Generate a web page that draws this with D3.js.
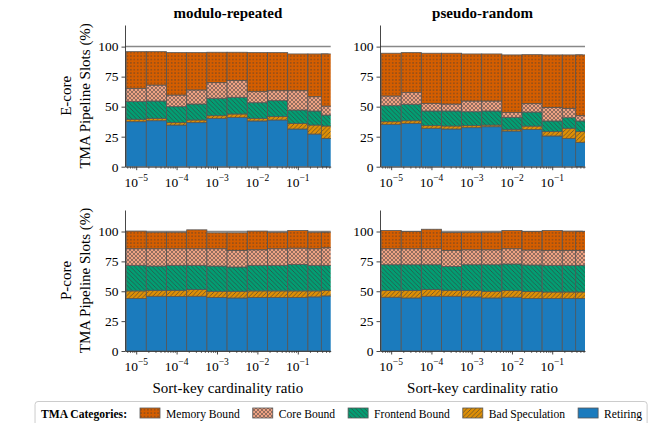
<!DOCTYPE html>
<html>
<head>
<meta charset="utf-8">
<script src="https://cdn.jsdelivr.net/npm/d3@7"></script>
<style>
  body { margin: 0; background: #fff; }
  svg, svg text { font-family: "Liberation Serif", "Times New Roman", "DejaVu Serif", serif; fill: #000; }
</style>
</head>
<body>
<script>
// TMA pipeline slot breakdown, E-core / P-core x modulo-repeated / pseudo-random

// Data
const ratios = [1e-5, 3.16e-5, 1e-4, 3.16e-4, 1e-3, 3.16e-3, 1e-2, 3.16e-2, 1e-1, 3.16e-1, 0.68];
const stackKeys = ["Retiring", "Bad Speculation", "Frontend Bound", "Core Bound", "Memory Bound"];
const legendKeys = ["Memory Bound", "Core Bound", "Frontend Bound", "Bad Speculation", "Retiring"];
const columnTitles = ["modulo-repeated", "pseudo-random"];
const rowLabels = ["E-core", "P-core"];
const yTicks = [0, 25, 50, 75, 100];
const xTicks = [1e-5, 1e-4, 1e-3, 1e-2, 1e-1];
const xTickExp = ["\u22125", "\u22124", "\u22123", "\u22122", "\u22121"];

// E-core, modulo-repeated
const eModRetiring = [37.5, 38.3, 34.7, 36.7, 40.3, 41.1, 38.1, 38.9, 31.4, 27.2, 23.6];
const eModBadSpec  = [2.0, 2.0, 2.0, 2.2, 2.2, 2.8, 2.2, 2.8, 4.7, 7.5, 10.3];
const eModFrontend = [14.7, 14.4, 13.3, 13.3, 14.5, 13.9, 13.0, 13.3, 11.1, 11.7, 9.1];
const eModCore     = [11.1, 13.3, 9.7, 11.7, 13.0, 13.9, 9.2, 8.3, 16.1, 11.9, 7.5];
const eModMemory   = [30.5, 27.8, 35.3, 31.1, 25.3, 23.6, 32.5, 31.7, 30.6, 35.6, 43.4];

// E-core, pseudo-random
const eRndRetiring = [35.3, 36.1, 32.0, 31.4, 32.5, 33.3, 29.7, 31.0, 25.6, 23.6, 20.3];
const eRndBadSpec  = [2.2, 2.2, 2.2, 2.5, 1.7, 1.4, 1.4, 2.8, 3.6, 8.4, 8.9];
const eRndFrontend = [13.3, 13.7, 12.2, 12.5, 11.6, 11.7, 10.0, 11.7, 8.9, 8.8, 8.9];
const eRndCore     = [8.1, 10.0, 6.4, 5.8, 8.9, 8.3, 4.2, 7.0, 11.3, 7.8, 4.4];
const eRndMemory   = [35.6, 33.0, 41.7, 42.3, 39.2, 39.2, 47.8, 40.8, 43.7, 44.5, 50.6];

// P-core, modulo-repeated
const pModRetiring = [43.9, 45.8, 45.6, 45.8, 44.7, 44.4, 44.7, 44.7, 44.7, 45.3, 46.1];
const pModBadSpec  = [6.4, 5.0, 5.2, 5.6, 5.3, 5.6, 5.6, 5.6, 5.6, 5.0, 4.7];
const pModFrontend = [21.4, 20.3, 20.9, 20.3, 21.1, 20.3, 21.4, 21.4, 22.2, 21.4, 20.9];
const pModCore     = [13.9, 14.5, 13.9, 13.9, 14.5, 13.9, 13.0, 13.9, 13.6, 13.9, 14.7];
const pModMemory   = [14.7, 13.8, 13.8, 15.8, 13.3, 14.7, 15.6, 13.8, 14.7, 13.8, 13.0];

// P-core, pseudo-random
const pRndRetiring = [45.0, 44.4, 45.8, 45.8, 45.3, 44.4, 45.0, 43.9, 43.9, 43.9, 43.9];
const pRndBadSpec  = [5.6, 6.2, 5.6, 5.0, 5.5, 5.6, 5.6, 5.8, 5.5, 5.5, 5.5];
const pRndFrontend = [21.6, 21.6, 20.8, 20.0, 21.4, 22.2, 22.2, 22.3, 22.3, 22.3, 22.3];
const pRndCore     = [13.4, 13.4, 13.4, 13.4, 12.5, 12.5, 12.8, 12.5, 12.5, 12.5, 12.5];
const pRndMemory   = [15.2, 14.4, 16.3, 15.0, 14.5, 14.7, 15.2, 15.5, 16.6, 16.1, 15.8];

const panelSeries = [
  [[eModRetiring, eModBadSpec, eModFrontend, eModCore, eModMemory],
   [eRndRetiring, eRndBadSpec, eRndFrontend, eRndCore, eRndMemory]],
  [[pModRetiring, pModBadSpec, pModFrontend, pModCore, pModMemory],
   [pRndRetiring, pRndBadSpec, pRndFrontend, pRndCore, pRndMemory]]
];

// Style
const fills = {
  "Memory Bound": "#d55e00",
  "Core Bound": "#eea283",
  "Frontend Bound": "#029e73",
  "Bad Speculation": "#de8f05",
  "Retiring": "#1b7bbd"
};
const serif = "'Liberation Serif', 'Times New Roman', 'DejaVu Serif', serif";
const hatchColor = "#3a3a3a";
const edgeColor = "#555";

const W = 655, H = 423;
const colX = [[125, 330.7], [380, 585]];
const rowY = [[25, 166.7], [210, 351]];
const xDomain = [5.28e-6, 0.652];
const yMax = 118;
const halfBar = 1.778; // bar spans half a decade on the log axis

const svg = d3.select("body").append("svg")
  .attr("width", W).attr("height", H)
  .attr("font-family", serif);

// hatch patterns
const defs = svg.append("defs");
function makePattern(key, size, draw) {
  const id = "pat-" + key.replace(/\s/g, "");
  const p = defs.append("pattern")
    .attr("id", id)
    .attr("patternUnits", "userSpaceOnUse")
    .attr("width", size).attr("height", size);
  p.append("rect").attr("width", size).attr("height", size).attr("fill", fills[key]);
  draw(p, size);
  return id;
}
const patIds = {};
patIds["Memory Bound"] = makePattern("Memory Bound", 3.4, (p, s) => {
  p.append("circle").attr("cx", s / 2).attr("cy", s / 2).attr("r", 0.6).attr("fill", hatchColor);
});
patIds["Core Bound"] = makePattern("Core Bound", 4, (p, s) => {
  p.append("path").attr("d", `M0,0L${s},${s}M${s},0L0,${s}`)
    .attr("stroke", hatchColor).attr("stroke-width", 0.6).attr("opacity", 0.85);
});
patIds["Frontend Bound"] = makePattern("Frontend Bound", 4.4, (p, s) => {
  p.append("path").attr("d", `M0,0L${s},${s}M${-s},0L${s},${2 * s}M0,${-s}L${2 * s},${s}`)
    .attr("stroke", hatchColor).attr("stroke-width", 0.7).attr("opacity", 0.85);
});
patIds["Bad Speculation"] = makePattern("Bad Speculation", 4.4, (p, s) => {
  p.append("path").attr("d", `M0,${s}L${s},0M${-s},${s}L${s},${-s}M0,${2 * s}L${2 * s},0`)
    .attr("stroke", hatchColor).attr("stroke-width", 0.7).attr("opacity", 0.85);
});
patIds["Retiring"] = null;
const fillOf = k => patIds[k] ? `url(#${patIds[k]})` : fills[k];

const stack = d3.stack().keys(stackKeys);

panelSeries.forEach((rowPanels, r) => {
  rowPanels.forEach((series, c) => {
    const [x0, x1] = colX[c];
    const [y0, y1] = rowY[r];
    const x = d3.scaleLog().domain(xDomain).range([x0, x1]);
    const y = d3.scaleLinear().domain([0, yMax]).range([y1, y0]);

    const rows = ratios.map((ratio, i) => {
      const row = { ratio };
      stackKeys.forEach((k, j) => { row[k] = series[j][i]; });
      return row;
    });
    const layers = stack(rows);

    const g = svg.append("g");
    const clipId = `clip-${r}-${c}`;
    g.append("clipPath").attr("id", clipId)
      .append("rect").attr("x", x0).attr("y", y0).attr("width", x1 - x0).attr("height", y1 - y0);

    // reference line at 100%
    g.append("line")
      .attr("x1", x0).attr("x2", x1)
      .attr("y1", y(100)).attr("y2", y(100))
      .attr("stroke", "#888").attr("stroke-width", 1.5);

    const bars = g.append("g").attr("clip-path", `url(#${clipId})`);
    rows.forEach((row, i) => {
      const bx = x(row.ratio / halfBar);
      const bw = x(row.ratio * halfBar) - bx;
      layers.forEach(layer => {
        const seg = layer[i];
        bars.append("rect")
          .attr("x", bx).attr("width", bw)
          .attr("y", y(seg[1])).attr("height", y(seg[0]) - y(seg[1]))
          .attr("fill", fillOf(layer.key))
          .attr("stroke", edgeColor).attr("stroke-width", 0.8);
      });
    });

    // y axis
    const yAxis = g.append("g").attr("transform", `translate(${x0},0)`)
      .call(d3.axisLeft(y).tickValues(yTicks).tickSize(3.5).tickSizeOuter(0).tickPadding(3));
    yAxis.attr("font-family", null).attr("font-size", null);
    yAxis.selectAll("text").attr("font-family", serif).style("font-size", "13.5px");

    // x axis, minor then major
    const minor = x.ticks().filter(v => !xTicks.some(t => Math.abs(t - v) / t < 1e-6));
    g.append("g").attr("transform", `translate(0,${y1})`)
      .call(d3.axisBottom(x).tickValues(minor).tickSize(2).tickSizeOuter(0).tickFormat(""))
      .call(a => a.select(".domain").remove())
      .selectAll(".tick line").attr("stroke", "#333").attr("stroke-width", 0.7);
    const xAxis = g.append("g").attr("transform", `translate(0,${y1})`)
      .call(d3.axisBottom(x).tickValues(xTicks).tickSize(3.5).tickSizeOuter(0).tickFormat(""));
    xTicks.forEach((t, i) => {
      const lab = g.append("text")
        .attr("x", x(t)).attr("y", y1 + 20)
        .attr("text-anchor", "middle")
        .attr("font-family", serif)
        .style("font-size", "13.5px");
      lab.append("tspan").text("10");
      lab.append("tspan").attr("dy", -6).style("font-size", "9.5px").text(xTickExp[i]);
    });

    [yAxis, xAxis].forEach(a => {
      a.select(".domain").attr("stroke", "#333").attr("stroke-width", 0.9);
      a.selectAll(".tick line").attr("stroke", "#333").attr("stroke-width", 0.9);
    });

    if (r === 0) {
      svg.append("text")
        .attr("x", (x0 + x1) / 2).attr("y", 18)
        .attr("text-anchor", "middle")
        .style("font-size", "15px").style("font-weight", "bold")
        .text(columnTitles[c]);
    }
    if (r === 1) {
      svg.append("text")
        .attr("x", (x0 + x1) / 2).attr("y", 393)
        .attr("text-anchor", "middle")
        .style("font-size", "15px")
        .text("Sort-key cardinality ratio");
    }
    if (c === 0) {
      const cy = (y0 + y1) / 2;
      const yl = svg.append("text")
        .attr("transform", `translate(71,${cy}) rotate(-90)`)
        .attr("text-anchor", "middle")
        .style("font-size", "15px");
      yl.append("tspan").attr("x", 0).attr("y", 0).text(rowLabels[r]);
      yl.append("tspan").attr("x", 0).attr("y", 18.5).text("TMA Pipeline Slots (%)");
    }
  });
});

// legend
const legend = svg.append("g");
const legendBox = legend.append("rect")
  .attr("y", 401.5).attr("height", 30).attr("rx", 3)
  .attr("fill", "#fff").attr("stroke", "#ccc").attr("stroke-width", 1);
const legendTitle = legend.append("text")
  .attr("y", 417.5).attr("text-anchor", "end")
  .style("font-size", "11.6px").style("font-weight", "bold")
  .text("TMA Categories:");
let lx = 140;
legendTitle.attr("x", lx - 13);
legendKeys.forEach(k => {
  legend.append("rect")
    .attr("x", lx).attr("y", 408).attr("width", 20).attr("height", 10)
    .attr("fill", fillOf(k)).attr("stroke", edgeColor).attr("stroke-width", 0.8);
  const t = legend.append("text")
    .attr("x", lx + 26).attr("y", 417.5)
    .style("font-size", "11.6px")
    .text(k);
  lx += 26 + t.node().getComputedTextLength() + 13;
});
const titleLeft = 140 - 13 - legendTitle.node().getComputedTextLength();
legendBox.attr("x", titleLeft - 6).attr("width", (lx - 13 + 5) - (titleLeft - 6));
</script>
</body>
</html>
